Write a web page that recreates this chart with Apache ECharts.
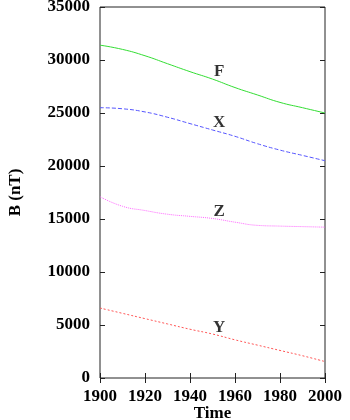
<!DOCTYPE html>
<html>
<head>
<meta charset="utf-8">
<script src="https://cdn.jsdelivr.net/npm/echarts@6/dist/echarts.min.js"></script>
<style>
  html, body { margin: 0; padding: 0; background: #fff; }
  #chart { width: 350px; height: 420px; }
</style>
</head>
<body>
<div id="chart"></div>
<script>
var years = [1900, 1910, 1920, 1930, 1940, 1950, 1960, 1970, 1980, 1990, 2000];
var fVals = [31400, 31000, 30400, 29650, 28900, 28200, 27400, 26700, 26000, 25500, 25000];
var xVals = [25500, 25400, 25100, 24600, 24000, 23400, 22800, 22100, 21500, 21000, 20500];
var zVals = [17100, 16200, 15800, 15450, 15250, 15050, 14700, 14400, 14330, 14280, 14230];
var yVals = [6600, 6100, 5600, 5100, 4600, 4150, 3600, 3100, 2600, 2100, 1550];
var labelNames = ['F', 'X', 'Z', 'Y'];
var labelPos = [[1953, 28870], [1953, 24060], [1953, 15660], [1953, 4720]];

var font = 'Liberation Serif';

function pairs(vals) {
    var out = [];
    for (var i = 0; i < years.length; i++) {
        out.push([years[i], vals[i]]);
    }
    return out;
}

function lineSeries(name, vals, color, dash) {
    return {
        name: name,
        type: 'line',
        data: pairs(vals),
        smooth: true,
        showSymbol: false,
        lineStyle: { color: color, width: 1, type: dash }
    };
}

function plain(v) { return String(v); }

var chart = echarts.init(document.getElementById('chart'));
var option = {
    animation: false,
    grid: {
        left: 100, right: 25, top: 7, bottom: 42,
        outerBoundsMode: 'none', containLabel: false,
        show: true, borderColor: '#222', borderWidth: 1
    },
    xAxis: [
        {
            type: 'value', min: 1900, max: 2000, interval: 20,
            name: 'Time', nameLocation: 'middle', nameGap: 27, nameMoveOverlap: false,
            nameTextStyle: { fontFamily: font, fontWeight: 'bold', fontSize: 17, color: '#000' },
            axisLine: { show: false },
            axisTick: { inside: true, length: 5, lineStyle: { color: '#222' } },
            axisLabel: { fontFamily: font, fontWeight: 'bold', fontSize: 17, color: '#000', margin: 10, formatter: plain },
            splitLine: { show: false }
        },
        {
            type: 'value', min: 1900, max: 2000, interval: 20, position: 'top',
            axisLine: { show: false },
            axisTick: { inside: true, length: 5, lineStyle: { color: '#222' } },
            axisLabel: { show: false },
            splitLine: { show: false }
        }
    ],
    yAxis: [
        {
            type: 'value', min: 0, max: 35000, interval: 5000,
            name: 'B (nT)', nameLocation: 'middle', nameGap: 76, nameMoveOverlap: false,
            nameTextStyle: { fontFamily: font, fontWeight: 'bold', fontSize: 17, color: '#000' },
            axisLine: { show: false },
            axisTick: { inside: true, length: 5, lineStyle: { color: '#222' } },
            axisLabel: { fontFamily: font, fontWeight: 'bold', fontSize: 17, color: '#000', margin: 10, formatter: plain },
            splitLine: { show: false }
        },
        {
            type: 'value', min: 0, max: 35000, interval: 5000, position: 'right',
            axisLine: { show: false },
            axisTick: { inside: true, length: 5, lineStyle: { color: '#222' } },
            axisLabel: { show: false },
            splitLine: { show: false }
        }
    ],
    series: [
        lineSeries('F', fVals, '#33dd33', 'solid'),
        lineSeries('X', xVals, '#5555ff', [4, 2]),
        lineSeries('Z', zVals, '#ff66ff', [1, 1]),
        lineSeries('Y', yVals, '#ff5555', [2, 2]),
        {
            type: 'scatter',
            symbolSize: 0,
            silent: true,
            data: labelPos.map(function (p, i) { return { name: labelNames[i], value: p }; }),
            label: {
                show: true, position: 'inside',
                formatter: '{b}',
                fontFamily: font, fontWeight: 'bold', fontSize: 17, color: '#000',
                textBorderWidth: 0
            }
        }
    ]
};
chart.setOption(option);
</script>
</body>
</html>
